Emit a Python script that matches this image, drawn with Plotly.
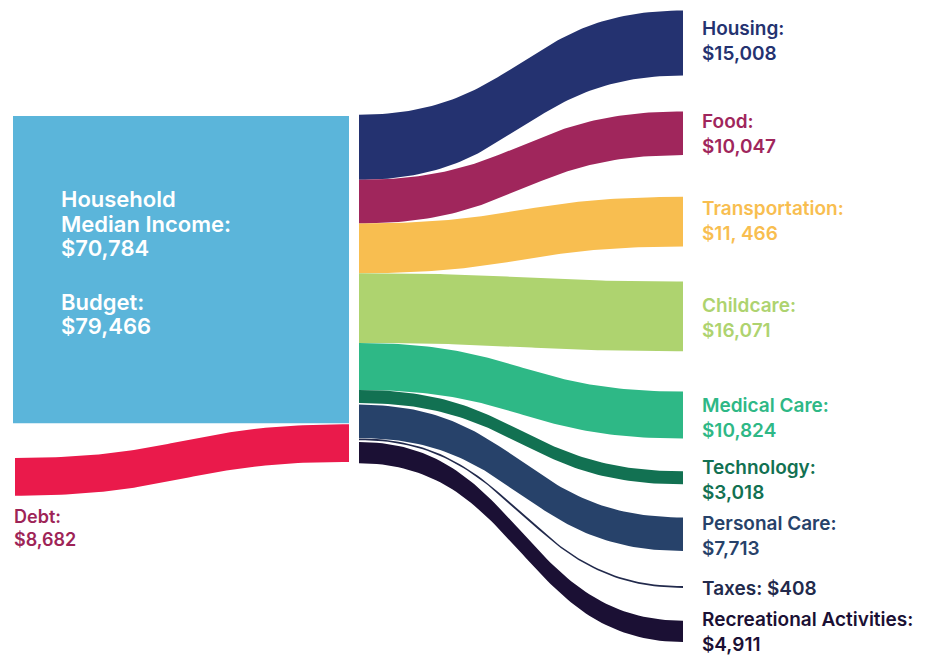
import numpy as np
import plotly.graph_objects as go

# ---------------- data ----------------
categories = ["Housing", "Food", "Transportation", "Childcare", "Medical Care",
              "Technology", "Personal Care", "Taxes", "Recreational Activities"]
amounts = [15008, 10047, 11466, 16071, 10824, 3018, 7713, 408, 4911]
amount_labels = ["$15,008", "$10,047", "$11, 466", "$16,071", "$10,824",
                 "$3,018", "$7,713", "$408", "$4,911"]
income = 70784
income_label = "$70,784"
debt = 8682
debt_label = "$8,682"
budget = 79466
budget_label = "$79,466"

# ---------------- styles / layout ----------------
colors = ["#243270", "#A0265C", "#F8BE50", "#AED36F", "#2EB886",
          "#127152", "#27426A", "#222A4C", "#1B1034"]
income_color = "#5BB5DA"
debt_color = "#EA1A4B"
debt_text_color = "#9E2457"
FONT = "Inter"

W, H = 927, 657
OFF = 8                 # page body margin
PXD = 0.00434           # pixels per dollar
D = 1.0 / PXD           # dollars per pixel

X_LEFT, X_MID, X_SPLIT, X_RIGHT, X_LABEL = 13, 349, 359, 683, 701
INCOME_TOP = 116 * D
DEBT_LEFT_TOP = 458 * D
DEBT_RIGHT_GAP = 1 * D
SPLIT_TOP = 114.7 * D
split_gaps = [0, 0, 0, 0, 0, 0, 1.6, 0.3, 1.8]          # px gaps before each band
right_centers = [43, 133.3, 221.7, 316.3, 415, 477.8, 534.2, 587, 631.3]  # px
label_centers = [40.8, 134.2, 220.8, 318.2, 417.5, 479.5, 535.8, 588.8, 632.0]  # px


def band(x0, x1, y0a, y0b, y1a, y1b, n=80):
    t = np.linspace(0, 1, n)
    xm = (x0 + x1) / 2
    x = (1 - t) ** 3 * x0 + 3 * (1 - t) ** 2 * t * xm + 3 * (1 - t) * t ** 2 * xm + t ** 3 * x1
    s = 3 * t ** 2 - 2 * t ** 3
    top = y0a + (y1a - y0a) * s
    bot = y0b + (y1b - y0b) * s
    xs = np.concatenate([x, x[::-1], [x[0]]])
    ys = np.concatenate([top, bot[::-1], [top[0]]])
    return xs, ys


def label(x, y_px, text, size, color, anchor="middle"):
    return dict(x=x, y=y_px * D, xref="x", yref="y", text=text, showarrow=False,
                xanchor="left", yanchor=anchor, align="left", borderpad=0,
                font=dict(family=FONT, size=size, color=color, weight=600))


fig = go.Figure()

# income block
inc_bot = INCOME_TOP + income
fig.add_trace(go.Scatter(x=[X_LEFT, X_MID, X_MID, X_LEFT, X_LEFT],
                         y=[INCOME_TOP, INCOME_TOP, inc_bot, inc_bot, INCOME_TOP],
                         fill="toself", fillcolor=income_color, mode="lines",
                         line=dict(width=0), hoverinfo="skip", showlegend=False))

# debt band
d_r_top = inc_bot + DEBT_RIGHT_GAP
xs, ys = band(X_LEFT + 2, X_MID, DEBT_LEFT_TOP, DEBT_LEFT_TOP + debt, d_r_top, d_r_top + debt)
fig.add_trace(go.Scatter(x=xs, y=ys, fill="toself", fillcolor=debt_color, mode="lines",
                         line=dict(width=0), hoverinfo="skip", showlegend=False))

# category bands
cur = SPLIT_TOP
annotations = []
for i, (cat, amt) in enumerate(zip(categories, amounts)):
    cur += split_gaps[i] * D
    l_top, l_bot = cur, cur + amt
    cur = l_bot
    rc = right_centers[i] * D
    r_top, r_bot = rc - amt / 2, rc + amt / 2
    xs, ys = band(X_SPLIT, X_RIGHT, l_top, l_bot, r_top, r_bot)
    fig.add_trace(go.Scatter(x=xs, y=ys, fill="toself", fillcolor=colors[i], mode="lines",
                             line=dict(width=0), hoverinfo="skip", showlegend=False))
    if cat == "Taxes":
        txt = f"{cat}: {amount_labels[i]}"
    else:
        txt = f"{cat}:<br>{amount_labels[i]}"
    annotations.append(label(X_LABEL, label_centers[i], txt, 19, colors[i]))

# text inside income block (one annotation per line for tight leading)
for y_px, txt in [(198.7, "Household"), (223.5, "Median Income:"), (247.7, income_label),
                  (302.0, "Budget:"), (326.3, budget_label)]:
    annotations.append(label(60, y_px, txt, 22, "white"))

annotations.append(label(13, 527.5, f"Debt:<br>{debt_label}", 18, debt_text_color))

fig.update_layout(
    width=W - OFF, height=H - OFF, margin=dict(l=0, r=0, t=0, b=0),
    paper_bgcolor="white", plot_bgcolor="white",
    xaxis=dict(range=[OFF, W], visible=False, fixedrange=True),
    yaxis=dict(range=[H * D, OFF * D], visible=False, fixedrange=True),
    annotations=annotations, showlegend=False,
)

fig.write_html("out.html")
